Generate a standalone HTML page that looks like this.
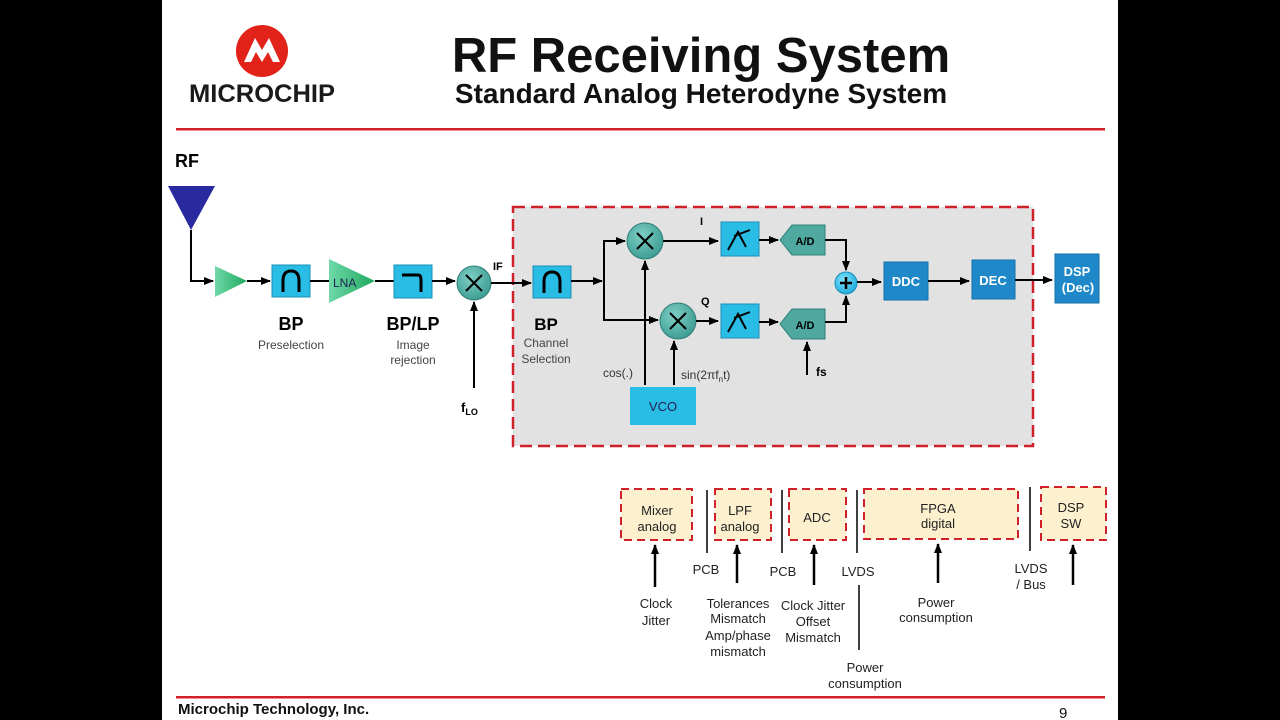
<!DOCTYPE html>
<html><head><meta charset="utf-8"><style>
html,body{margin:0;padding:0;background:#000;}
svg{display:block;font-family:"Liberation Sans",Arial,sans-serif;}
</style></head><body>
<svg width="1280" height="720" viewBox="0 0 1280 720" xmlns="http://www.w3.org/2000/svg">
<defs>
<marker id="ar" markerWidth="10" markerHeight="10" refX="9" refY="5" orient="auto" markerUnits="userSpaceOnUse"><path d="M0,1 L10,5 L0,9 z" fill="#000"/></marker>
<linearGradient id="gt" x1="0" y1="0" x2="1" y2="0"><stop offset="0" stop-color="#6fd9a8"/><stop offset="1" stop-color="#1fa860"/></linearGradient>
<radialGradient id="gm" cx="0.4" cy="0.35" r="0.7"><stop offset="0" stop-color="#7fcfc6"/><stop offset="1" stop-color="#3a9a90"/></radialGradient>
<radialGradient id="gs" cx="0.4" cy="0.35" r="0.7"><stop offset="0" stop-color="#7fe4ff"/><stop offset="1" stop-color="#1ca7d8"/></radialGradient>
</defs>
<rect x="162" y="0" width="956" height="720" fill="#fff"/>
<!-- logo -->
<circle cx="262" cy="51" r="26" fill="#e2231a"/>
<path d="M244,62 L255,38 L262,50 L269,38 L280,62 L273,62 L268,52 L262,62 L256,52 L251,62 z" fill="#fff"/>
<text x="189" y="102" font-size="25" font-weight="bold" fill="#e2231a" textLength="146" lengthAdjust="spacingAndGlyphs" style="fill:#1a1a1a">MICROCHIP</text>
<text x="701" y="72" font-size="49" font-weight="bold" text-anchor="middle" fill="#111">RF Receiving System</text>
<text x="701" y="103" font-size="28" font-weight="bold" text-anchor="middle" fill="#111">Standard Analog Heterodyne System</text>
<rect x="176" y="128" width="929" height="2.5" fill="#d0202a"/>
<rect x="176" y="696" width="929" height="2.5" fill="#d0202a"/>
<text x="178" y="714" font-size="15" font-weight="bold" fill="#111">Microchip Technology, Inc.</text>
<text x="1059" y="718" font-size="15" fill="#111">9</text>

<!-- front end -->
<text x="175" y="167" font-size="18" font-weight="bold">RF</text>
<polygon points="168,186 215,186 191,230" fill="#2a2aa0"/>
<path d="M191,230 V281 H213" stroke="#000" stroke-width="2" fill="none" marker-end="url(#ar)"/>
<polygon points="215,266 247,281 215,297" fill="url(#gt)"/>
<path d="M247,281 H270" stroke="#000" stroke-width="2" marker-end="url(#ar)"/>
<rect x="272" y="265" width="38" height="32" fill="#29bde6" stroke="#1a8fb5"/>
<path d="M283,292 V281 Q283,271 291,271 Q299,271 299,281 V292" stroke="#000" stroke-width="3" fill="none"/>
<path d="M310,281 H329" stroke="#000" stroke-width="2"/>
<polygon points="329,259 375,281 329,303" fill="url(#gt)"/>
<text x="333" y="287" font-size="12" fill="#225">LNA</text>
<path d="M375,281 H394" stroke="#000" stroke-width="2"/>
<rect x="394" y="265" width="38" height="33" fill="#29bde6" stroke="#1a8fb5"/>
<path d="M402,275 H418 Q421,275 421,280 V292" stroke="#000" stroke-width="3" fill="none"/>
<path d="M432,281 H455" stroke="#000" stroke-width="2" marker-end="url(#ar)"/>
<circle cx="474" cy="283" r="17" fill="url(#gm)" stroke="#2d7f77"/>
<path d="M466,275 L482,291 M482,275 L466,291" stroke="#000" stroke-width="2"/>
<path d="M474,388 V302" stroke="#000" stroke-width="2" marker-end="url(#ar)"/>
<text x="461" y="412" font-size="13" font-weight="bold">f<tspan font-size="9" dy="3">LO</tspan></text>
<text x="493" y="270" font-size="11" font-weight="bold">IF</text>
<text x="291" y="330" font-size="18" font-weight="bold" text-anchor="middle">BP</text>
<text x="291" y="349" font-size="12" fill="#444" text-anchor="middle">Preselection</text>
<text x="413" y="330" font-size="18" font-weight="bold" text-anchor="middle">BP/LP</text>
<text x="413" y="349" font-size="12" fill="#444" text-anchor="middle">Image</text>
<text x="413" y="364" font-size="12" fill="#444" text-anchor="middle">rejection</text>

<!-- dashed region -->
<rect x="513" y="207" width="520" height="239" fill="#e2e2e2" stroke="#d0202a" stroke-width="2.5" stroke-dasharray="12,6"/>
<path d="M491,283 H531" stroke="#000" stroke-width="2" marker-end="url(#ar)"/>
<rect x="533" y="266" width="38" height="32" fill="#29bde6" stroke="#1a8fb5"/>
<path d="M544,293 V282 Q544,272 552,272 Q560,272 560,282 V293" stroke="#000" stroke-width="3" fill="none"/>
<text x="546" y="330" font-size="17" font-weight="bold" text-anchor="middle">BP</text>
<text x="546" y="347" font-size="12" fill="#444" text-anchor="middle">Channel</text>
<text x="546" y="363" font-size="12" fill="#444" text-anchor="middle">Selection</text>
<path d="M571,281 H602" stroke="#000" stroke-width="2" marker-end="url(#ar)"/>
<path d="M604,281 V241 H625" stroke="#000" stroke-width="2" fill="none" marker-end="url(#ar)"/>
<path d="M604,281 V320 H658" stroke="#000" stroke-width="2" fill="none" marker-end="url(#ar)"/>
<circle cx="645" cy="241" r="18" fill="url(#gm)" stroke="#2d7f77"/>
<path d="M637,233 L653,249 M653,233 L637,249" stroke="#000" stroke-width="2"/>
<circle cx="678" cy="321" r="18" fill="url(#gm)" stroke="#2d7f77"/>
<path d="M670,313 L686,329 M686,313 L670,329" stroke="#000" stroke-width="2"/>
<path d="M645,385 V261" stroke="#000" stroke-width="2" marker-end="url(#ar)"/>
<path d="M674,385 V341" stroke="#000" stroke-width="2" marker-end="url(#ar)"/>
<text x="603" y="377" font-size="12" fill="#333">cos(.)</text>
<text x="681" y="379" font-size="12" fill="#333">sin(2πf<tspan font-size="8" dy="3">n</tspan><tspan dy="-3">t)</tspan></text>
<rect x="630" y="387" width="66" height="38" fill="#29bde6"/>
<text x="663" y="411" font-size="13" fill="#225" text-anchor="middle">VCO</text>
<text x="700" y="225" font-size="11" font-weight="bold">I</text>
<text x="701" y="305" font-size="11" font-weight="bold">Q</text>
<path d="M663,241 H718" stroke="#000" stroke-width="2" marker-end="url(#ar)"/>
<path d="M696,321 H718" stroke="#000" stroke-width="2" marker-end="url(#ar)"/>
<rect x="721" y="222" width="38" height="34" fill="#29bde6" stroke="#1a8fb5"/>
<path d="M728,250 L738,232 L746,247 M734,236 L750,230" stroke="#000" stroke-width="2" fill="none"/>
<rect x="721" y="304" width="38" height="34" fill="#29bde6" stroke="#1a8fb5"/>
<path d="M728,332 L738,314 L746,329 M734,318 L750,312" stroke="#000" stroke-width="2" fill="none"/>
<path d="M759,240 H778" stroke="#000" stroke-width="2" marker-end="url(#ar)"/>
<path d="M759,322 H778" stroke="#000" stroke-width="2" marker-end="url(#ar)"/>
<polygon points="780,240 792,225 825,225 825,255 792,255" fill="#4fa9a0" stroke="#2d7f77"/>
<text x="805" y="245" font-size="11" font-weight="bold" text-anchor="middle">A/D</text>
<polygon points="780,324 792,309 825,309 825,339 792,339" fill="#4fa9a0" stroke="#2d7f77"/>
<text x="805" y="329" font-size="11" font-weight="bold" text-anchor="middle">A/D</text>
<path d="M825,240 H846 V270" stroke="#000" stroke-width="2" fill="none" marker-end="url(#ar)"/>
<path d="M825,322 H846 V296" stroke="#000" stroke-width="2" fill="none" marker-end="url(#ar)"/>
<path d="M807,375 V342" stroke="#000" stroke-width="2" marker-end="url(#ar)"/>
<text x="816" y="376" font-size="12" font-weight="bold">fs</text>
<circle cx="846" cy="283" r="11" fill="url(#gs)" stroke="#1a8fb5"/>
<path d="M840,283 H852 M846,277 V289" stroke="#000" stroke-width="2.5"/>
<path d="M857,282 H881" stroke="#000" stroke-width="2" marker-end="url(#ar)"/>
<rect x="884" y="262" width="44" height="38" fill="#1e88c8" stroke="#1670a8"/>
<text x="906" y="286" font-size="13" font-weight="bold" fill="#fff" text-anchor="middle">DDC</text>
<path d="M928,281 H969" stroke="#000" stroke-width="2" marker-end="url(#ar)"/>
<rect x="972" y="260" width="43" height="39" fill="#1e88c8" stroke="#1670a8"/>
<text x="993" y="285" font-size="13" font-weight="bold" fill="#fff" text-anchor="middle">DEC</text>
<path d="M1015,280 H1052" stroke="#000" stroke-width="2" marker-end="url(#ar)"/>
<rect x="1055" y="254" width="44" height="49" fill="#1e88c8" stroke="#1670a8"/>
<text x="1077" y="276" font-size="13" font-weight="bold" fill="#fff" text-anchor="middle">DSP</text>
<text x="1078" y="292" font-size="13" font-weight="bold" fill="#fff" text-anchor="middle">(Dec)</text>

<!-- bottom -->
<g fill="#fcf0cf" stroke="#d0202a" stroke-width="2" stroke-dasharray="8,5">
<rect x="621" y="489" width="71" height="51"/>
<rect x="715" y="489" width="56" height="51"/>
<rect x="789" y="489" width="57" height="51"/>
<rect x="864" y="489" width="154" height="50"/>
<rect x="1041" y="487" width="65" height="53"/>
</g>
<g font-size="13" fill="#222" text-anchor="middle">
<text x="657" y="515">Mixer</text><text x="657" y="531">analog</text>
<text x="740" y="515">LPF</text><text x="740" y="531">analog</text>
<text x="817" y="522">ADC</text>
<text x="938" y="513">FPGA</text><text x="938" y="528">digital</text>
<text x="1071" y="512">DSP</text><text x="1071" y="528">SW</text>
<text x="706" y="574">PCB</text>
<text x="783" y="576">PCB</text>
<text x="858" y="576">LVDS</text>
<text x="1031" y="573">LVDS</text><text x="1031" y="589">/ Bus</text>
<text x="656" y="608">Clock</text><text x="656" y="625">Jitter</text>
<text x="738" y="608">Tolerances</text><text x="738" y="623">Mismatch</text><text x="738" y="640">Amp/phase</text><text x="738" y="656">mismatch</text>
<text x="813" y="610">Clock Jitter</text><text x="813" y="626">Offset</text><text x="813" y="642">Mismatch</text>
<text x="936" y="607">Power</text><text x="936" y="622">consumption</text>
<text x="865" y="672">Power</text><text x="865" y="688">consumption</text>
</g>
<g stroke="#000" stroke-width="1.5">
<path d="M707,490 V553 M782,490 V553 M857,490 V553 M859,585 V650 M1030,487 V551"/>
</g>
<g stroke="#000" stroke-width="2.5">
<path d="M655,587 V545" marker-end="url(#ar)"/>
<path d="M737,583 V545" marker-end="url(#ar)"/>
<path d="M814,585 V545" marker-end="url(#ar)"/>
<path d="M938,583 V544" marker-end="url(#ar)"/>
<path d="M1073,585 V545" marker-end="url(#ar)"/>
</g>
</svg>
</body></html>
